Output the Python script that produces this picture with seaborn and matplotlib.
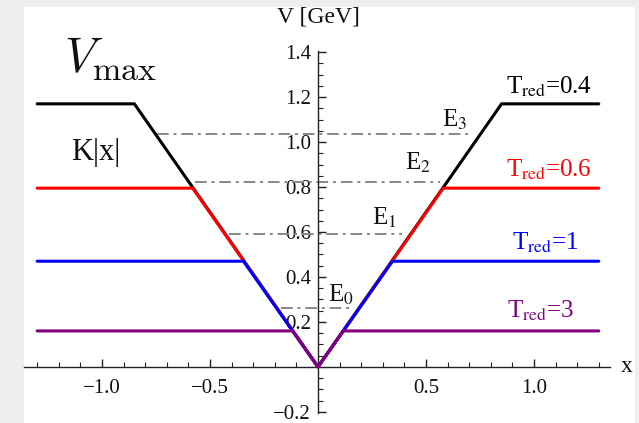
import matplotlib
matplotlib.use("Agg")
import matplotlib.pyplot as plt
import seaborn as sns
import pandas as pd
from matplotlib.ticker import MultipleLocator
from matplotlib.patches import Rectangle

# plateau heights of the capped potentials and where they meet K|x|
t_red = ["0.4", "0.6", "1", "3"]
v_caps = [1.17, 0.795, 0.47, 0.16]
corner_x = [0.85, 0.58, 0.345, 0.117]
line_colors = ["black", "#ff0000", "#0000ff", "#800080"]
x_end = 1.3

# energy levels (dash-dot lines)
e_names = ["E$_0$", "E$_1$", "E$_2$", "E$_3$"]
e_levels = [0.262, 0.59, 0.822, 1.036]
e_left = [-0.17, -0.41, -0.57, -0.745]
e_right = [0.15, 0.39, 0.565, 0.713]

sns.set_style("white")
plt.rcParams["font.family"] = ["Liberation Serif", "DejaVu Serif"]
plt.rcParams["mathtext.fontset"] = "stix"
plt.rcParams["text.color"] = "#111111"

fig = plt.figure(figsize=(6.39, 4.23), dpi=100)
fig.patch.set_facecolor("#eeeeee")
fig.patches.append(Rectangle((24 / 639, 0), (635 - 24) / 639, (423 - 7) / 423,
                             transform=fig.transFigure, facecolor="white",
                             edgecolor="none", zorder=-10))
ax = fig.add_axes([24 / 639, 10 / 423, 586 / 639, 362 / 423])
ax.set_facecolor("none")

# dash-dot energy levels
for lvl, x0, x1 in zip(e_levels, e_left, e_right):
    ax.plot([x0, x1], [lvl, lvl], color="#888888", lw=1.4,
            linestyle=(0, (6, 2.5, 1.5, 2.5)), zorder=2)

# potentials
for i, (v, cx, col) in enumerate(zip(v_caps, corner_x, line_colors)):
    df = pd.DataFrame({"x": [-x_end, -cx, 0, cx, x_end],
                       "V": [v, v, 0, v, v]})
    sns.lineplot(data=df, x="x", y="V", sort=False, color=col, lw=2.2,
                 ax=ax, zorder=3 + i)

ax.set_xlim(-1.361, 1.352)
ax.set_ylim(-0.205, 1.405)

# Mathematica-style axes through the origin
for side in ["top", "right"]:
    ax.spines[side].set_visible(False)
ax.spines["left"].set_position(("data", 0))
ax.spines["bottom"].set_position(("data", 0))
for side in ["left", "bottom"]:
    ax.spines[side].set_color("#222222")
    ax.spines[side].set_linewidth(1.0)

ax.set_xticks([-1.0, -0.5, 0.5, 1.0])
ax.set_xticklabels(["\u22121.0", "\u22120.5", "0.5", "1.0"])
ax.set_yticks([-0.2, 0.2, 0.4, 0.6, 0.8, 1.0, 1.2, 1.4])
ax.set_yticklabels(["\u22120.2", "0.2", "0.4", "0.6", "0.8", "1.0", "1.2", "1.4"])
ax.xaxis.set_minor_locator(MultipleLocator(0.1))
ax.yaxis.set_minor_locator(MultipleLocator(0.05))
ax.tick_params(which="both", bottom=True, left=True, direction="in",
               color="#222222")
ax.tick_params(which="major", length=6, width=1, labelsize=15,
               labelcolor="#111111", pad=5)
ax.tick_params(which="minor", length=3.5, width=0.8)
ax.tick_params(axis="x", which="major", pad=9)
ax.set_xlabel("")
ax.set_ylabel("")

ax.text(0, 1.555, "V [GeV]", fontsize=17, ha="center", va="center")
ax.text(1.43, 0.0, "x", fontsize=17, ha="center", va="center", clip_on=False)

ax.text(-0.96, 1.37, r"$V_{\max}$", fontsize=35, ha="center", va="center",
        math_fontfamily="cm")
ax.text(-1.03, 0.955, "K|x|", fontsize=22, ha="center", va="center")

t_pos = [(1.07, 1.244), (1.07, 0.876), (1.05, 0.551), (1.03, 0.249)]
for lab, (tx, ty), col in zip(t_red, t_pos, line_colors):
    ax.text(tx, ty, "T$_{\\mathrm{red}}$=" + lab, color=col, fontsize=18,
            ha="center", va="center")

e_pos = [(0.106, 0.32), (0.306, 0.662), (0.463, 0.907), (0.634, 1.098)]
for name, (tx, ty) in zip(e_names, e_pos):
    ax.text(tx, ty, name, fontsize=18, ha="center", va="center")

fig.savefig("out.png", dpi=100, facecolor=fig.get_facecolor())
